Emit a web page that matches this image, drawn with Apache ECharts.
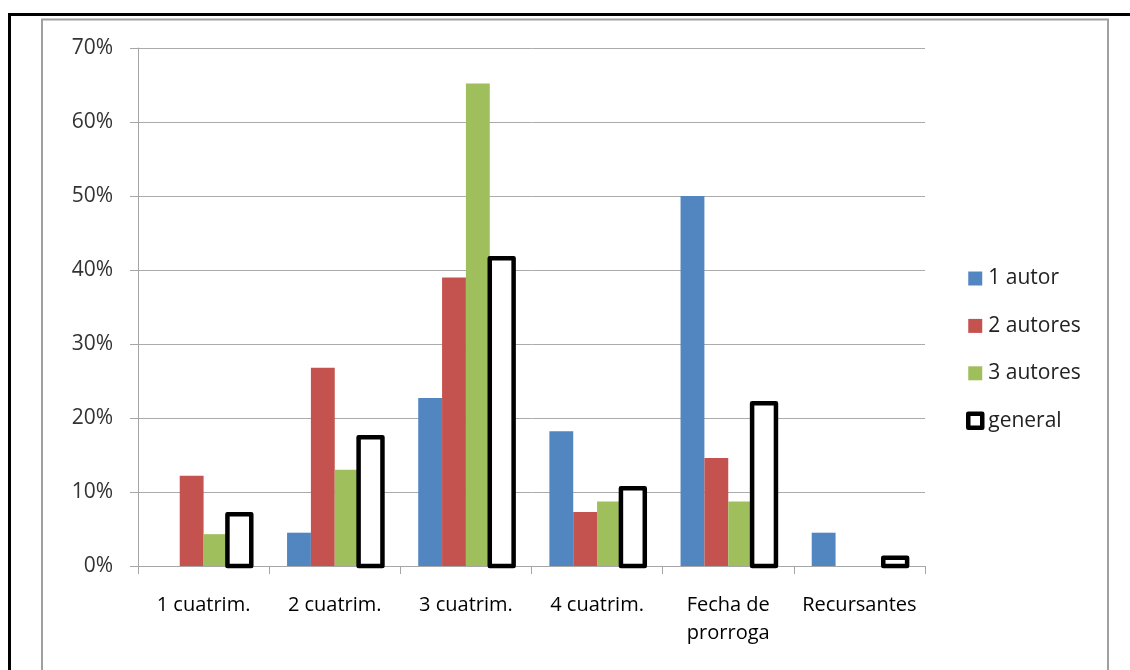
<!DOCTYPE html>
<html>
<head>
<meta charset="utf-8">
<script src="https://cdn.jsdelivr.net/npm/echarts@6/dist/echarts.min.js"></script>
<style>
html,body{margin:0;padding:0;background:#fff;}
#c{width:1130px;height:670px;}
</style>
</head>
<body>
<div id="c"></div>
<script>
const categories = ['1 cuatrim.', '2 cuatrim.', '3 cuatrim.', '4 cuatrim.', 'Fecha de\nprorroga', 'Recursantes'];
const seriesNames = ['1 autor', '2 autores', '3 autores', 'general'];
const unAutor = [0, 4.5, 22.7, 18.2, 50.0, 4.5];
const dosAutores = [12.2, 26.8, 39.0, 7.3, 14.6, 0];
const tresAutores = [4.3, 13.0, 65.2, 8.7, 8.7, 0];
const general = [7.0, 17.4, 41.6, 10.5, 22.0, 1.1];
const yTicks = [0, 10, 20, 30, 40, 50, 60, 70];

const FONT = '"Open Sans", "Noto Sans", sans-serif';
const colors = ['#5286C1', '#C4534F', '#9FBE5C'];
const chart = echarts.init(document.getElementById('c'), null, {renderer: 'canvas'});

const barW = 23.85;
function bar(name, data, color) {
  return {
    name: name, type: 'bar', data: data, barWidth: barW, barGap: '0%',
    itemStyle: {color: color}
  };
}

chart.setOption({
  animation: false,
  backgroundColor: '#fff',
  graphic: [
    {type: 'rect', shape: {x: 42, y: 19.5, width: 1066, height: 700}, style: {fill: 'none', stroke: '#a0a0a0', lineWidth: 2}, silent: true, z: -1},
    {type: 'line', shape: {x1: 8, y1: 14.5, x2: 1130, y2: 14.5}, style: {stroke: '#000', lineWidth: 3}, silent: true},
    {type: 'line', shape: {x1: 9.5, y1: 13, x2: 9.5, y2: 670}, style: {stroke: '#000', lineWidth: 3}, silent: true}
  ],
  grid: {left: 138, right: 205, top: 48, bottom: 104, containLabel: false},
  legend: {
    orient: 'vertical', left: 961, top: 263, itemWidth: 14, itemHeight: 14, itemGap: 26.4,
    icon: 'rect',
    textStyle: {fontFamily: FONT, fontSize: 21, color: '#222', padding: [0, 0, 0, 1]},
    data: [
      {name: '1 autor'},
      {name: '2 autores'},
      {name: '3 autores'},
      {name: 'general', itemStyle: {color: '#fff', borderColor: '#000', borderWidth: 4.5, borderJoin: 'round'}}
    ]
  },
  xAxis: {
    type: 'category', data: categories, boundaryGap: true,
    axisLine: {lineStyle: {color: '#a6a6a6', width: 1}},
    axisTick: {show: true, length: 8, lineStyle: {color: '#a6a6a6'}},
    axisLabel: {fontFamily: FONT, fontSize: 20, color: '#000', margin: 25, lineHeight: 28, interval: 0}
  },
  yAxis: {
    type: 'value', min: 0, max: 70, interval: 10,
    axisLine: {show: true, lineStyle: {color: '#a6a6a6', width: 1}},
    axisTick: {show: true, length: 8, lineStyle: {color: '#a6a6a6'}},
    splitLine: {lineStyle: {color: '#ababab', width: 1}},
    axisLabel: {fontFamily: FONT, fontSize: 21, color: '#333', margin: 25,
      formatter: function (v) { return yTicks.indexOf(v) >= 0 ? v + '%' : ''; }}
  },
  series: [
    bar(seriesNames[0], unAutor, colors[0]),
    bar(seriesNames[1], dosAutores, colors[1]),
    bar(seriesNames[2], tresAutores, colors[2]),
    // layout slot for the 4th bar (outline drawn by the custom series below)
    {name: seriesNames[3], type: 'bar', data: general, barWidth: barW, barGap: '0%',
     itemStyle: {color: 'rgba(0,0,0,0)'}, silent: true},
    {
      name: seriesNames[3], type: 'custom', z: 5,
      data: general.map(function (v, i) { return [i, v]; }),
      encode: {x: 0, y: 1},
      renderItem: function (params, api) {
        const ci = api.value(0), v = api.value(1);
        const top = api.coord([ci, v]);
        const base = api.coord([ci, 0]);
        return {
          type: 'rect',
          shape: {x: top[0] + barW, y: top[1], width: barW, height: base[1] - top[1]},
          style: {fill: '#fff', stroke: '#000', lineWidth: 4.5, lineJoin: 'round'}
        };
      }
    }
  ]
});
</script>
</body>
</html>
